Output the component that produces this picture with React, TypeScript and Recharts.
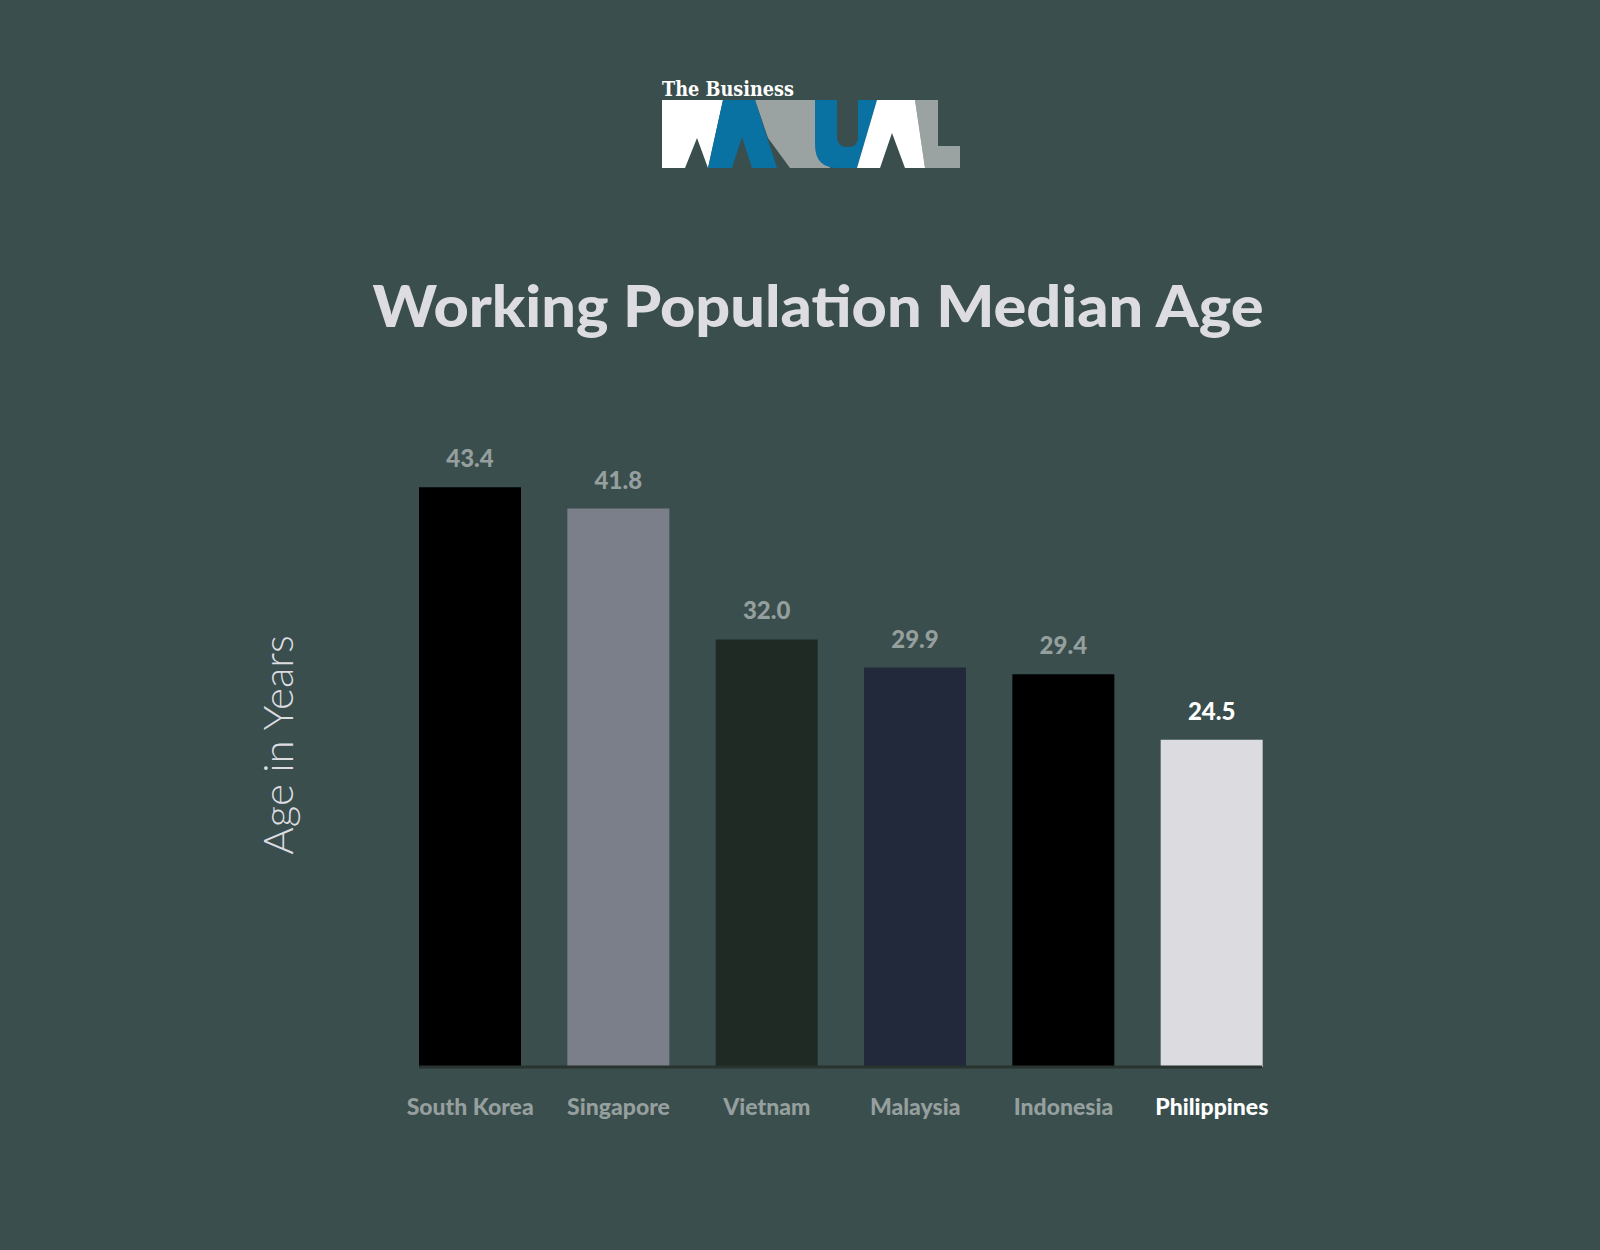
/**
 * WorkingAgeChart
 * Bar chart of working population median age, with logo header.
 */

import { BarChart, Bar, XAxis, YAxis, Cell, LabelList } from "recharts";

const countries = ["South Korea", "Singapore", "Vietnam", "Malaysia", "Indonesia", "Philippines"];
const medianAges = [43.4, 41.8, 32.0, 29.9, 29.4, 24.5];
const barColors = ["#000000", "#7b7f8a", "#1f2a25", "#22293b", "#000000", "#dcdbe0"];
const labelColors = ["#959f9e", "#959f9e", "#959f9e", "#959f9e", "#959f9e", "#ffffff"];

const BG = "#3a4e4d";
const FONT = "Lato, 'Open Sans', sans-serif";

const chartData = countries.map((country, i) => ({ country, age: medianAges[i] }));

function CountryTick(props: any) {
  const { x, y, payload, index } = props;
  return (
    <text
      x={x}
      y={y + 48}
      textAnchor="middle"
      fontFamily={FONT}
      fontWeight={900}
      fontSize={23}
      fill={labelColors[index] ?? labelColors[0]}
    >
      {payload.value}
    </text>
  );
}

function ValueLabel(props: any) {
  const { x, y, width, value, index } = props;
  return (
    <text
      x={x + width / 2}
      y={y - 20}
      textAnchor="middle"
      fontFamily={FONT}
      fontWeight={900}
      fontSize={24}
      fill={labelColors[index]}
    >
      {Number(value).toFixed(1)}
    </text>
  );
}

function AxisTitle(props: any) {
  const { viewBox } = props;
  const cx = viewBox.x + 277;
  const cy = 745;
  return (
    <text
      x={cx}
      y={cy}
      transform={`rotate(-90 ${cx} ${cy})`}
      textAnchor="middle"
      dominantBaseline="central"
      fontFamily={FONT}
      fontWeight={300}
      fontSize={42}
      fill="#dddce1"
    >
      Age in Years
    </text>
  );
}

function Header() {
  return (
    <svg width={1600} height={1250} style={{ position: "absolute", left: 0, top: 0, pointerEvents: "none" }}>
      {/* logo */}
      <text x={662} y={96} fontFamily="'DejaVu Serif', serif" fontWeight={700} fontSize={20} fill="#ffffff" textLength={132} lengthAdjust="spacingAndGlyphs">
        The Business
      </text>
      <polygon points="755,100 830,100 830,168 790,168 768,138" fill="#9aa3a2" />
      <polygon points="662,100 723,100 708,168 697,138 685,168 662,168" fill="#ffffff" />
      <polygon points="723,100 755,100 777,168 752,168 742,137 732,168 708,168" fill="#0a71a3" />
      <path d="M815,100 L837,100 L837,137 Q837,147 847.5,147 Q858,147 858,137 L858,100 L877,100 L857,168 L838,168 Q815,168 815,145 Z" fill="#0a71a3" />
      <polygon points="915,100 938,100 938,146 960,146 960,168 925,168" fill="#9aa3a2" />
      <polygon points="877,100 915,100 925,168 905,168 892,133 880,168 857,168" fill="#ffffff" />
      {/* title */}
      <text x={818} y={327} textAnchor="middle" fontFamily={FONT} fontWeight={900} fontSize={58} fill="#dddce1" textLength={891} lengthAdjust="spacingAndGlyphs">
        Working Population Median Age
      </text>
    </svg>
  );
}

export default function App() {
  return (
    <div style={{ position: "absolute", left: 0, top: 0, width: 1600, height: 1250, background: BG, overflow: "hidden" }}>
      <Header />
      <div style={{ position: "absolute", left: 0, top: 0 }}>
        <BarChart
          width={1600}
          height={1250}
          data={chartData}
          margin={{ top: 399, right: 338, bottom: 123, left: 0 }}
          barSize={102}
        >
          <XAxis
            dataKey="country"
            height={60}
            padding={{ left: -23, right: -24 }}
            tickLine={false}
            tickSize={0}
            tickMargin={0}
            axisLine={{ stroke: "#29332f", strokeWidth: 3 }}
            tick={<CountryTick />}
            interval={0}
          />
          <YAxis
            width={419}
            domain={[0, 50]}
            tick={false}
            tickLine={false}
            axisLine={false}
            label={<AxisTitle />}
          />
          <Bar dataKey="age" isAnimationActive={false}>
            {chartData.map((d, i) => (
              <Cell key={d.country} fill={barColors[i]} />
            ))}
            <LabelList dataKey="age" content={<ValueLabel />} />
          </Bar>
        </BarChart>
      </div>
    </div>
  );
}
